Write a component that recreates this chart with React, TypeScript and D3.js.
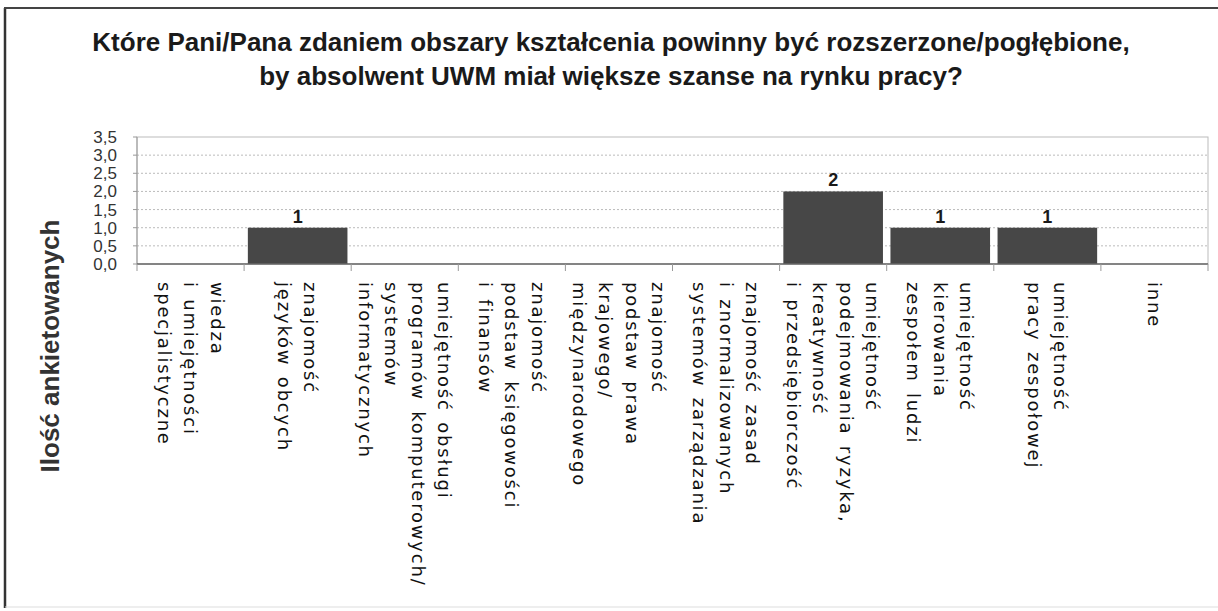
import React from "react";
import * as d3 from "d3";

const titleLines = [
  "Które Pani/Pana zdaniem obszary kształcenia powinny być rozszerzone/pogłębione,",
  "by absolwent UWM miał większe szanse na rynku pracy?",
];
const yTitle = "Ilość ankietowanych";

const categories: string[][] = [
  ["wiedza", "i umiejętności", "specjalistyczne"],
  ["znajomość", "języków obcych"],
  ["umiejętność obsługi", "programów komputerowych/", "systemów", "informatycznych"],
  ["znajomość", "podstaw księgowości", "i finansów"],
  ["znajomość", "podstaw prawa", "krajowego/", "międzynarodowego"],
  ["znajomość zasad", "i znormalizowanych", "systemów zarządzania"],
  ["umiejętność", "podejmowania ryzyka,", "kreatywność", "i przedsiębiorczość"],
  ["umiejętność", "kierowania", "zespołem ludzi"],
  ["umiejętność", "pracy zespołowej"],
  ["inne"],
];
const values = [0, 1, 0, 0, 0, 0, 2, 1, 1, 0];
const yTicks = [0, 0.5, 1, 1.5, 2, 2.5, 3, 3.5];
const yTickLabels = ["0,0", "0,5", "1,0", "1,5", "2,0", "2,5", "3,0", "3,5"];

const W = 1218;
const H = 611;
const plot = { left: 137, right: 1208, top: 137, bottom: 264 };

export default function App() {
  const x = d3
    .scaleBand<number>()
    .domain(d3.range(categories.length))
    .range([plot.left, plot.right])
    .paddingInner(0.07)
    .paddingOuter(0.035);
  const y = d3.scaleLinear().domain([0, 3.5]).range([plot.bottom, plot.top]);
  const step = x.step();
  const boundaries = d3.range(categories.length + 1).map((i) => plot.left + i * step);
  const lineGap = 26.5;

  return (
    <svg
      width={W}
      height={H}
      style={{ position: "absolute", left: 0, top: 0, display: "block", background: "#fff" }}
    >
      <rect x={0} y={0} width={W} height={H} fill="#fff" />
      {/* outer frame */}
      <line x1={5} y1={8} x2={5} y2={608} stroke="#333" strokeWidth={2.5} />
      <line x1={4} y1={8} x2={W} y2={8} stroke="#444" strokeWidth={2} />
      <line x1={5} y1={607} x2={W} y2={607} stroke="#ddd" strokeWidth={1} />

      {/* title */}
      {titleLines.map((t, i) => (
        <text
          key={i}
          x={611}
          y={51 + i * 34}
          textAnchor="middle"
          fontFamily="Liberation Sans, Arial, sans-serif"
          fontWeight="bold"
          fontSize={26}
          fill="#1a1a1a"
        >
          {t}
        </text>
      ))}

      {/* plot area frame */}
      <rect
        x={plot.left}
        y={plot.top}
        width={plot.right - plot.left}
        height={plot.bottom - plot.top}
        fill="none"
        stroke="#bbb"
        strokeWidth={1}
      />
      {/* gridlines */}
      {yTicks.slice(1, -1).map((t) => (
        <line
          key={t}
          x1={plot.left}
          x2={plot.right}
          y1={y(t)}
          y2={y(t)}
          stroke="#bbb"
          strokeWidth={1}
          strokeDasharray="2,2"
        />
      ))}
      {/* y axis */}
      <line x1={plot.left} x2={plot.left} y1={plot.top} y2={plot.bottom} stroke="#999" />
      {yTicks.map((t, i) => (
        <g key={t}>
          <line x1={plot.left - 4} x2={plot.left} y1={y(t)} y2={y(t)} stroke="#999" />
          <text
            x={117}
            y={y(t)}
            dy="0.35em"
            textAnchor="end"
            fontFamily="Liberation Sans, Arial, sans-serif"
            fontSize={17}
            fill="#333"
          >
            {yTickLabels[i]}
          </text>
        </g>
      ))}

      {/* bars */}
      {values.map((v, i) =>
        v > 0 ? (
          <g key={i}>
            <rect
              x={x(i)!}
              y={y(v)}
              width={x.bandwidth()}
              height={y(0) - y(v)}
              fill="#474747"
            />
            <text
              x={x(i)! + x.bandwidth() / 2}
              y={y(v) - 5}
              textAnchor="middle"
              fontFamily="Liberation Sans, Arial, sans-serif"
              fontWeight="bold"
              fontSize={18}
              fill="#1a1a1a"
            >
              {v}
            </text>
          </g>
        ) : null
      )}

      {/* x axis */}
      <line x1={plot.left} x2={plot.right} y1={plot.bottom} y2={plot.bottom} stroke="#666" strokeWidth={1.5} />
      {boundaries.map((bx, i) => (
        <line key={i} x1={bx} x2={bx} y1={plot.bottom} y2={plot.bottom + 7} stroke="#999" />
      ))}

      {/* category labels */}
      {categories.map((lines, i) => {
        const cx = x(i)! + x.bandwidth() / 2;
        const n = lines.length;
        return lines.map((ln, j) => {
          const lx = cx + ((n - 1) / 2 - j) * lineGap;
          return (
            <text
              key={i + "-" + j}
              transform={`translate(${lx},282) rotate(90)`}
              textAnchor="start"
              dominantBaseline="central"
              fontFamily="DejaVu Sans, Verdana, sans-serif"
              fontSize={18}
              letterSpacing={1.8}
              wordSpacing={3}
              fill="#111"
            >
              {ln}
            </text>
          );
        });
      })}

      {/* y axis title */}
      <text
        transform={`translate(50,346) rotate(-90)`}
        textAnchor="middle"
        dominantBaseline="central"
        fontFamily="Liberation Sans, Arial, sans-serif"
        fontWeight="bold"
        fontSize={26}
        fill="#333"
      >
        {yTitle}
      </text>
    </svg>
  );
}
